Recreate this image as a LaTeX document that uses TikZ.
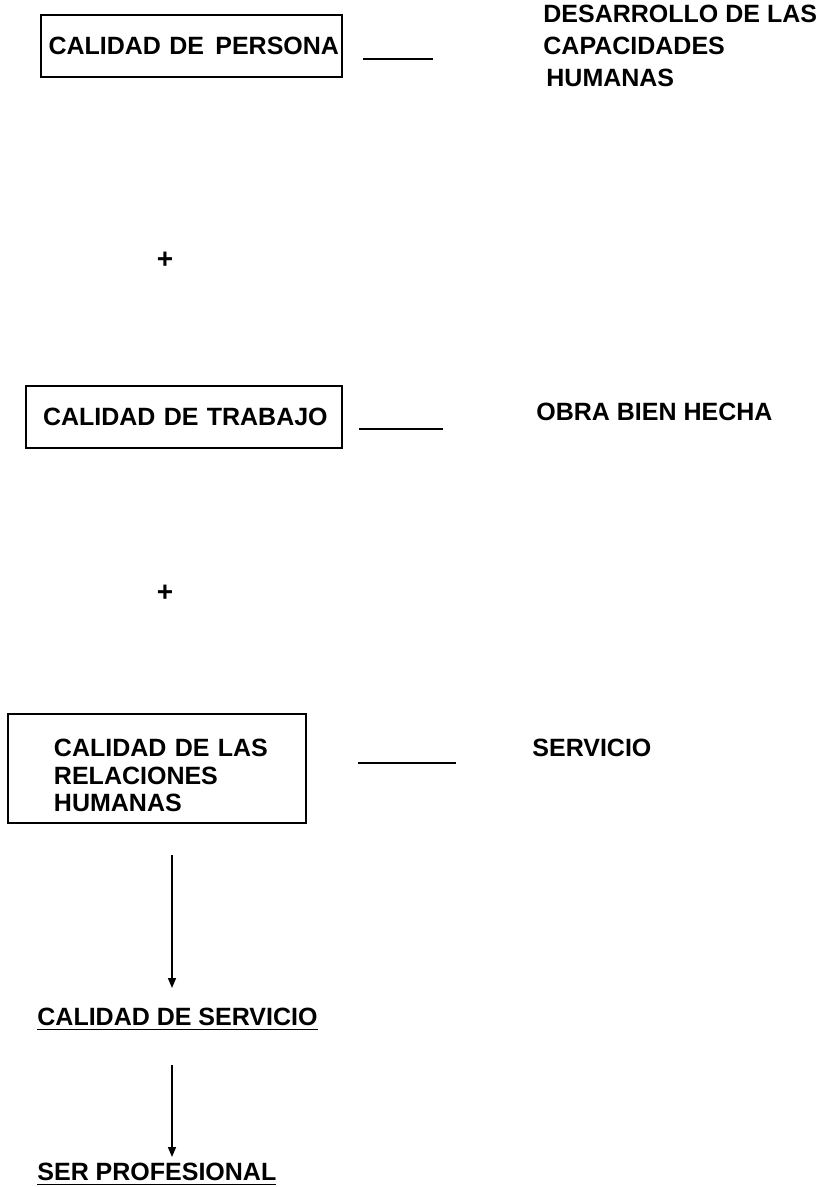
\documentclass[tikz,border=0pt]{standalone}
\usepackage{fontspec}
\setmainfont{Liberation Sans}
\usetikzlibrary{arrows.meta,calc}

\tikzset{
  caja/.style={draw, line width=1pt, anchor=north west, inner ysep=0pt, align=left,
    font=\fontsize{12.5}{13.75}\selectfont\bfseries},
  texto/.style={inner sep=0pt, anchor=north west, align=left,
    font=\fontsize{12.5}{16}\selectfont\bfseries},
  mas/.style={inner sep=0pt, font=\fontsize{14}{16}\selectfont\bfseries},
  raya/.style={line width=1pt},
  flecha/.style={line width=0.75pt, -{Triangle[width=4pt,length=5pt]}},
}

\begin{document}
\begin{tikzpicture}[x=0.5pt, y=-0.5pt]
	\useasboundingbox (0,0) rectangle (828,1187);
	% cajas de la izquierda
	\node[caja, minimum width=150.5pt, minimum height=31pt, text width=143pt, inner xsep=3.75pt] (persona) at (40,14) {\mbox{CALIDAD DE\hspace{1.5pt} PERSONA}};
	\node[caja, minimum width=158pt, minimum height=31pt, text width=141pt, inner xsep=8.5pt] (trabajo) at (25,385) {\mbox{CALIDAD DE TRABAJO}};
	\node[caja, minimum width=149pt, minimum height=54.5pt, text width=103pt, inner xsep=23pt] (relaciones) at (7,713) {\mbox{\rule{0pt}{16pt}CALIDAD DE LAS}\\\mbox{RELACIONES}\\\mbox{HUMANAS}};
	% textos de la derecha
	\node[texto] (desarrollo) at (543,5) {DESARROLLO DE LAS\\CAPACIDADES\\\hspace{1.5pt}HUMANAS};
	\node[texto] (obra) at (536,403) {OBRA BIEN HECHA};
	\node[texto] (servicio) at (532,739) {SERVICIO};
	% signos
	\node[mas] (mas1) at (165,260) {+};
	\node[mas] (mas2) at (165,593) {+};
	% rayas
	\coordinate (r1a) at (363,59);
	\coordinate (r1b) at (433,59);
	\coordinate (r2a) at (359,429);
	\coordinate (r2b) at (443,429);
	\coordinate (r3a) at (358,763);
	\coordinate (r3b) at (456,763);
	\draw[raya] (r1a) -- (r1b);
	\draw[raya] (r2a) -- (r2b);
	\draw[raya] (r3a) -- (r3b);
	% resultado
	\node[texto] (calserv) at (37,1008) {\underline{CALIDAD DE SERVICIO}};
	\node[texto] (profesional) at (37,1163) {\underline{SER PROFESIONAL}};
	\draw[flecha] ($(relaciones.south west)+(165,31)$) -- ($(calserv.north west)+(135,-20)$);
	\draw[flecha] ($(calserv.base west)+(135,39)$) -- ($(profesional.north west)+(135,-6)$);
\end{tikzpicture}
\end{document}
